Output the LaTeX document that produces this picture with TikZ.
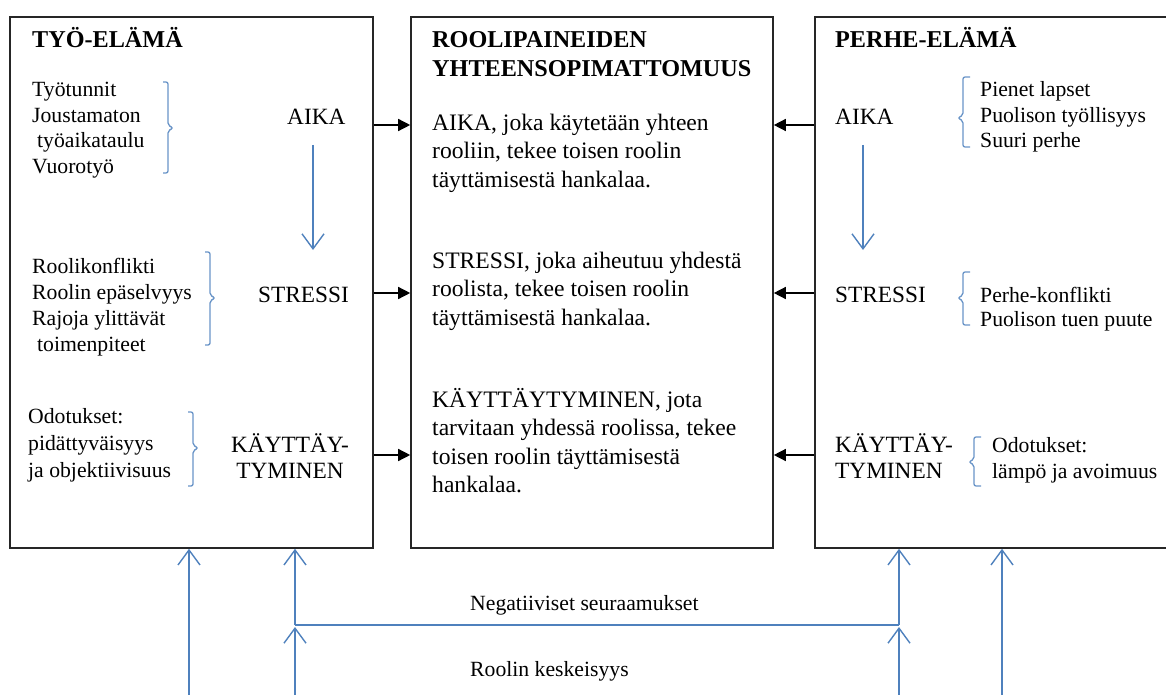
\documentclass[tikz,border=0pt]{standalone}
\usepackage{fontspec}
\setmainfont{Liberation Serif}
\usetikzlibrary{arrows.meta}
\definecolor{accent}{HTML}{4F81BD}
\begin{document}
\begin{tikzpicture}[x=1pt,y=-1pt,
  panel/.style={draw=black!85, line width=1.6pt, rectangle, inner sep=0pt},
  head/.style={anchor=base west, inner sep=0pt, align=left, font=\fontsize{24.2}{29}\selectfont\bfseries},
  body/.style={anchor=base west, inner sep=0pt, align=left, font=\fontsize{23.6}{28.5}\selectfont},
  factor/.style={anchor=base west, inner sep=0pt, align=left, font=\fontsize{23.3}{26}\selectfont},
  list/.style={anchor=base west, inner sep=0pt, align=left, font=\fontsize{21.7}{25.5}\selectfont},
  push/.style={draw=black, line width=1.4pt, -{Triangle[length=12pt,width=12pt]}},
  flow/.style={draw=accent, line width=1.4pt, -{Straight Barb[length=15pt,width=22pt]}},
  link/.style={draw=accent, line width=1.4pt},
  brace/.style={draw=accent!85, line width=1.3pt, rounded corners=2pt},
]
\useasboundingbox (0,0) rectangle (1166,695);
\clip (0,0) rectangle (1166,695);

% three panels
\node[panel, minimum width=363pt, minimum height=531pt] (tyo)   at (191.5,282.5) {};
\node[panel, minimum width=362pt, minimum height=531pt] (rooli) at (592,282.5) {};
\node[panel, minimum width=370pt, minimum height=531pt] (perhe) at (1000,282.5) {};

% multi-line texts are placed by the baseline of their last line

% work life
\node[head] (tyoT) at (32,48) {TYÖ-ELÄMÄ};
\node[list] (tyoL1) at (32,173.5) {Työtunnit\\Joustamaton\\\hspace*{5pt}työaikataulu\\Vuorotyö};
\draw[brace] (163,82) -- (168,82) -- (168,125) -- (173,128) -- (168,131) -- (168,173) -- (163,173);
\node[factor] (tyoA) at (287,125) {AIKA};
\node[list, font=\fontsize{21.7}{26}\selectfont] (tyoL2) at (32,351) {Roolikonflikti\\Roolin epäselvyys\\Rajoja ylittävät\\\hspace*{5pt}toimenpiteet};
\draw[brace] (205,252) -- (210,252) -- (210,295) -- (215,298) -- (210,301) -- (210,345) -- (205,345);
\node[factor] (tyoS) at (258,302) {STRESSI};
\node[list, font=\fontsize{21.7}{27}\selectfont] (tyoL3) at (28,477) {Odotukset:\\pidättyväisyys\\ja objektiivisuus};
\draw[brace] (188,412) -- (193,412) -- (193,445) -- (198,448) -- (193,451) -- (193,486) -- (188,486);
\node[factor, align=center, anchor=base] (tyoK) at (290,478) {KÄYTTÄY-\\TYMINEN};

\coordinate (tyoF1) at (313,145);
\coordinate (tyoF2) at (313,250);
\draw[flow] (tyoF1) -- (tyoF2);

% role conflict
\node[head] (rooliT) at (432,77) {ROOLIPAINEIDEN\\YHTEENSOPIMATTOMUUS};
\node[body] (rooliA) at (432,187) {AIKA, joka käytetään yhteen\\rooliin, tekee toisen roolin\\täyttämisestä hankalaa.};
\node[body] (rooliS) at (432,325) {STRESSI, joka aiheutuu yhdestä\\roolista, tekee toisen roolin\\täyttämisestä hankalaa.};
\node[body] (rooliK) at (432,492.5) {KÄYTTÄYTYMINEN, jota\\tarvitaan yhdessä roolissa, tekee\\toisen roolin täyttämisestä\\hankalaa.};

% family life
\node[head] (perheT) at (835,48) {PERHE-ELÄMÄ};
\node[factor] (perheA) at (835,125) {AIKA};
\draw[brace] (970,77) -- (963,77) -- (963,115) -- (958,118) -- (963,121) -- (963,147) -- (970,147);
\node[list] (perheL1) at (980,148) {Pienet lapset\\Puolison työllisyys\\Suuri perhe};
\node[factor] (perheS) at (835,302) {STRESSI};
\draw[brace] (970,272) -- (963,272) -- (963,295) -- (958,298) -- (963,301) -- (963,325) -- (970,325);
\node[list, font=\fontsize{21.7}{24}\selectfont] (perheL2) at (980,326) {Perhe-konflikti\\Puolison tuen puute};
\node[factor] (perheK) at (835,478) {KÄYTTÄY-\\TYMINEN};
\draw[brace] (981,437) -- (974,437) -- (974,459) -- (969,462) -- (974,465) -- (974,486) -- (981,486);
\node[list, font=\fontsize{21.7}{26}\selectfont] (perheL3) at (992,478) {Odotukset:\\lämpö ja avoimuus};

\coordinate (perheF1) at (863,145);
\coordinate (perheF2) at (863,250);
\draw[flow] (perheF1) -- (perheF2);

% pressures into the middle panel
\foreach \y in {125,293,455} {
  \draw[push] (tyo.east |- 0,\y) -- (rooli.west |- 0,\y);
  \draw[push] (perhe.west |- 0,\y) -- (rooli.east |- 0,\y);
}

% feedback lines from below
\coordinate (bL1) at (189,695);
\coordinate (bL2) at (295,695);
\coordinate (bR1) at (899,695);
\coordinate (bR2) at (1002,695);
\coordinate (jL) at (295,625);
\coordinate (jR) at (899,625);
\draw[flow] (bL1) -- (tyo.south -| bL1);
\draw[flow] (bR2) -- (perhe.south -| bR2);
\draw[flow] (bL2) -- ([yshift=-2pt]jL);
\draw[flow] (bR1) -- ([yshift=-2pt]jR);
\draw[flow] (jL) -- (tyo.south -| jL);
\draw[flow] (jR) -- (perhe.south -| jR);
\draw[link] (jL) -- (jR);

\node[list] (neg) at (470,610) {Negatiiviset seuraamukset};
\node[list] (kesk) at (470,676) {Roolin keskeisyys};
\end{tikzpicture}
\end{document}
